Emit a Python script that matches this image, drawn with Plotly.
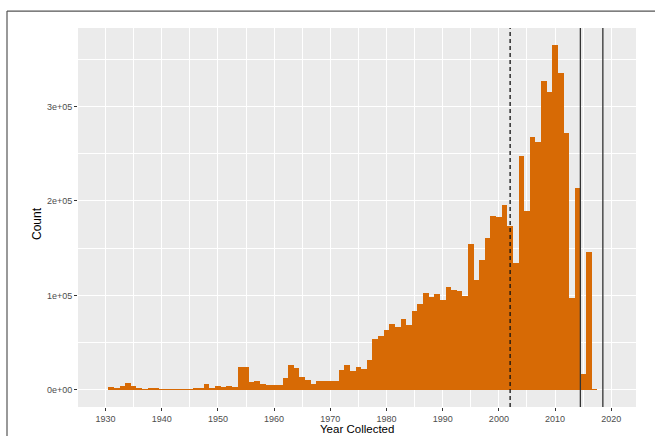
import plotly.graph_objects as go

years = list(range(1931, 2018))
counts = [
    2800, 1400, 3500, 6700, 4200, 1400, 700, 1000, 1000,          # 1931-1939
    300, 300, 300, 300, 400, 500, 2100, 2100, 5900, 2100,          # 1940-1949
    3900, 2800, 3500, 2800, 24500, 23800, 8000, 9100, 5600, 4900,  # 1950-1959
    4900, 5000, 12000, 26000, 23000, 14000, 10000, 5600, 9000, 9000,  # 1960-1969
    9000, 9000, 21000, 26000, 20000, 24000, 22500, 32000, 54000, 57500,  # 1970-1979
    63000, 70000, 67000, 75000, 69000, 83500, 90500, 102000, 98000, 101000,  # 1980-1989
    95000, 109000, 106000, 104500, 99500, 154000, 116500, 138000, 160700, 184500,  # 1990-1999
    183500, 196000, 173000, 134700, 247700, 189000, 267700, 262800, 326700, 315000,  # 2000-2009
    365000, 336000, 272000, 96800, 213300, 17200, 146000, 500,  # 2010-2017
]

dashed_line_year = [2002]
solid_line_years = [2014.5, 2018.5]

x_ticks = [1930, 1940, 1950, 1960, 1970, 1980, 1990, 2000, 2010, 2020]
y_ticks = [0, 100000, 200000, 300000]
y_tick_labels = ["0e+00", "1e+05", "2e+05", "3e+05"]

W, H = 655, 436
L, R, T, B = 78, 19, 28, 27
pw, ph = W - L - R, H - T - B

def px_x(p):
    return (p - L) / pw

def px_y(p):
    return (H - B - p) / ph

fig = go.Figure()
fig.add_trace(go.Bar(
    x=years, y=counts, width=1.0,
    marker=dict(color="#D76A05", line=dict(width=0)),
    hoverinfo="x+y",
))

shapes = []
for xv in dashed_line_year:
    shapes.append(dict(type="line", xref="x", yref="paper", x0=xv, x1=xv, y0=0, y1=1,
                       line=dict(color="#111111", width=1.3, dash="4px,3px")))
for xv in solid_line_years:
    shapes.append(dict(type="line", xref="x", yref="paper", x0=xv, x1=xv, y0=0, y1=1,
                       line=dict(color="#333333", width=1.3)))
# outer frame (left and top edges of the screenshot border)
shapes.append(dict(type="line", xref="paper", yref="paper",
                   x0=px_x(7), x1=px_x(7), y0=px_y(11), y1=px_y(440),
                   line=dict(color="#555555", width=1.2)))
shapes.append(dict(type="line", xref="paper", yref="paper",
                   x0=px_x(7), x1=px_x(660), y0=px_y(11), y1=px_y(11),
                   line=dict(color="#555555", width=1.2)))

annotations = [
    dict(text="Count", xref="paper", yref="paper", x=px_x(37), y=px_y(225),
         textangle=-90, showarrow=False, xanchor="center", yanchor="middle",
         font=dict(size=12, color="black", family="Liberation Sans, Arial, sans-serif")),
    dict(text="Year Collected", xref="paper", yref="paper", x=px_x(357), y=px_y(431.5),
         showarrow=False, xanchor="center", yanchor="middle",
         font=dict(size=11.5, color="black", family="Liberation Sans, Arial, sans-serif")),
]

fig.update_layout(
    width=W, height=H,
    margin=dict(l=L, r=R, t=T, b=B, pad=0),
    paper_bgcolor="white",
    plot_bgcolor="#EBEBEB",
    bargap=0,
    showlegend=False,
    shapes=shapes,
    annotations=annotations,
    font=dict(family="Liberation Sans, Arial, sans-serif", size=9, color="#4D4D4D"),
)
fig.update_xaxes(
    range=[1925.1, 2024.4],
    tickvals=x_ticks,
    ticks="outside", ticklen=3, tickwidth=1, tickcolor="#333333",
    showgrid=True, gridcolor="white", gridwidth=1.1,
    minor=dict(dtick=5, tick0=1925, showgrid=True, gridcolor="white", gridwidth=0.5, ticks=""),
    zeroline=False, showline=False,
    tickfont=dict(size=9, color="#4D4D4D"),
)
fig.update_yaxes(
    range=[-18250, 383250],
    tickvals=y_ticks, ticktext=y_tick_labels,
    ticks="outside", ticklen=3, tickwidth=1, tickcolor="#333333",
    showgrid=True, gridcolor="white", gridwidth=1.1,
    minor=dict(dtick=50000, tick0=0, showgrid=True, gridcolor="white", gridwidth=0.5, ticks=""),
    zeroline=False, showline=False,
    tickfont=dict(size=9, color="#4D4D4D"),
)

fig.write_html(
    "out.html",
    config={"displayModeBar": False},
    post_script="document.body.style.margin='0';document.body.style.overflow='hidden';",
)
